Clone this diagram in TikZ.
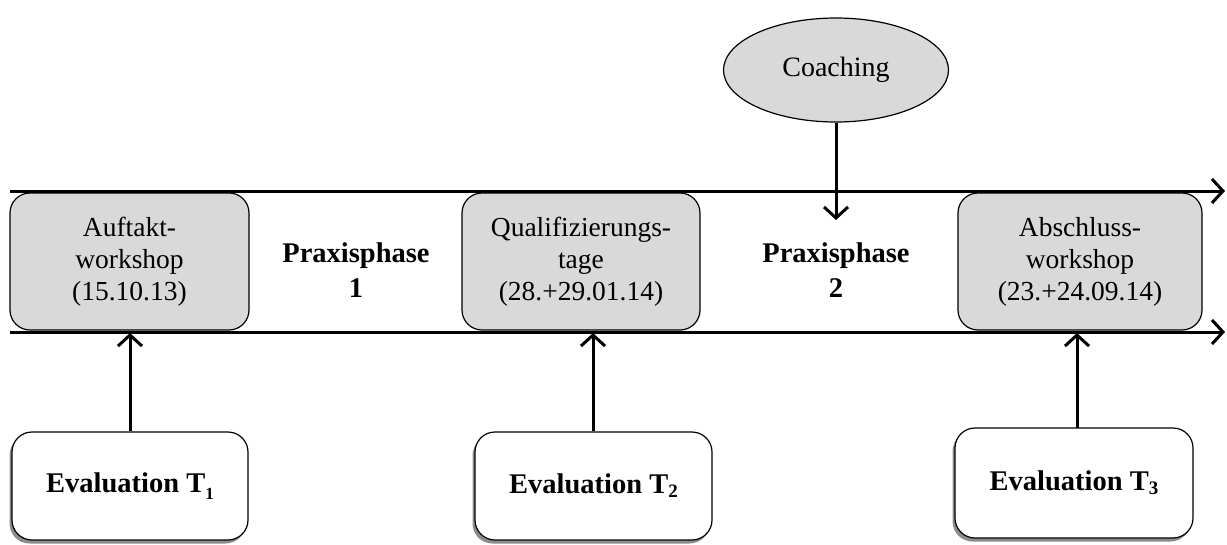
\documentclass[tikz,border=0pt]{standalone}
\usepackage{fontspec}
\setmainfont{Liberation Serif}
\usetikzlibrary{arrows.meta,shapes.geometric,shadows}
\definecolor{boxgray}{HTML}{D9D9D9}
\tikzset{
  tipped/.style={line width=3pt,-{Straight Barb[length=11pt,width=24pt,line width=3pt]}},
  phasebox/.style={draw,line width=1.2pt,rounded corners=20pt,fill=boxgray,minimum height=137pt,
    align=center,font=\fontsize{27.5}{32}\selectfont,inner sep=0pt},
  evalbox/.style={draw,line width=1.2pt,rounded corners=20pt,fill=white,minimum width=236pt,minimum height=108pt,
    drop shadow={shadow xshift=-2.5pt,shadow yshift=-3.5pt,fill=black!45,opacity=1},font=\fontsize{28.5}{32}\selectfont\bfseries},
  praxis/.style={align=center,font=\fontsize{28.5}{35}\selectfont\bfseries},
}
\begin{document}
\begin{tikzpicture}[x=1pt,y=-1pt]
\useasboundingbox (0,0) rectangle (1227,544);
% timeline lines
\coordinate (tl) at (10,191);
\coordinate (tr) at (1225,191);
\coordinate (bl) at (10,332);
\coordinate (br) at (1225,332);
\draw[tipped] (tl) -- (tr);
\draw[tipped] (bl) -- (br);
% phase boxes
\node[phasebox,minimum width=239pt] (auf) at (129.5,261.5) {Auftakt-\\workshop\\(15.10.13)};
\node[phasebox,minimum width=238pt] (qual) at (581,261.5) {Qualifizierungs-\\tage\\(28.+29.01.14)};
\node[phasebox,minimum width=244pt] (abs) at (1080,261.5) {Abschluss-\\workshop\\(23.+24.09.14)};
\node[praxis] (p1) at (356,270) {Praxisphase\\1};
\node[praxis] (p2) at (836,270) {Praxisphase\\2};
% coaching
\node[draw,ellipse,line width=1.2pt,fill=boxgray,minimum width=225pt,minimum height=104pt,inner sep=0pt,font=\fontsize{28}{32}\selectfont] (coach) at (836,70) {Coaching};
\coordinate (ctip) at (836,220);
\draw[tipped] (coach.south) -- (ctip);
% evaluation boxes
\node[evalbox] (e1) at (130,486) {Evaluation T\raisebox{-0.5ex}{\fontsize{17}{17}\selectfont 1}};
\node[evalbox,minimum width=237pt] (e2) at (593.5,486) {Evaluation T\raisebox{-0.3ex}{\fontsize{19}{19}\selectfont 2}};
\node[evalbox,minimum width=238pt,minimum height=110pt] (e3) at (1074,483) {Evaluation T\raisebox{-0.3ex}{\fontsize{19}{19}\selectfont 3}};
\coordinate (a1) at (130,333);
\coordinate (a2) at (593,333);
\coordinate (a3) at (1077,333);
\coordinate (e3top) at (1077,428);
\draw[tipped] (e1.north) -- (a1);
\draw[tipped] (e2.north -| a2) -- (a2);
\draw[tipped] (e3top) -- (a3);
\end{tikzpicture}
\end{document}
